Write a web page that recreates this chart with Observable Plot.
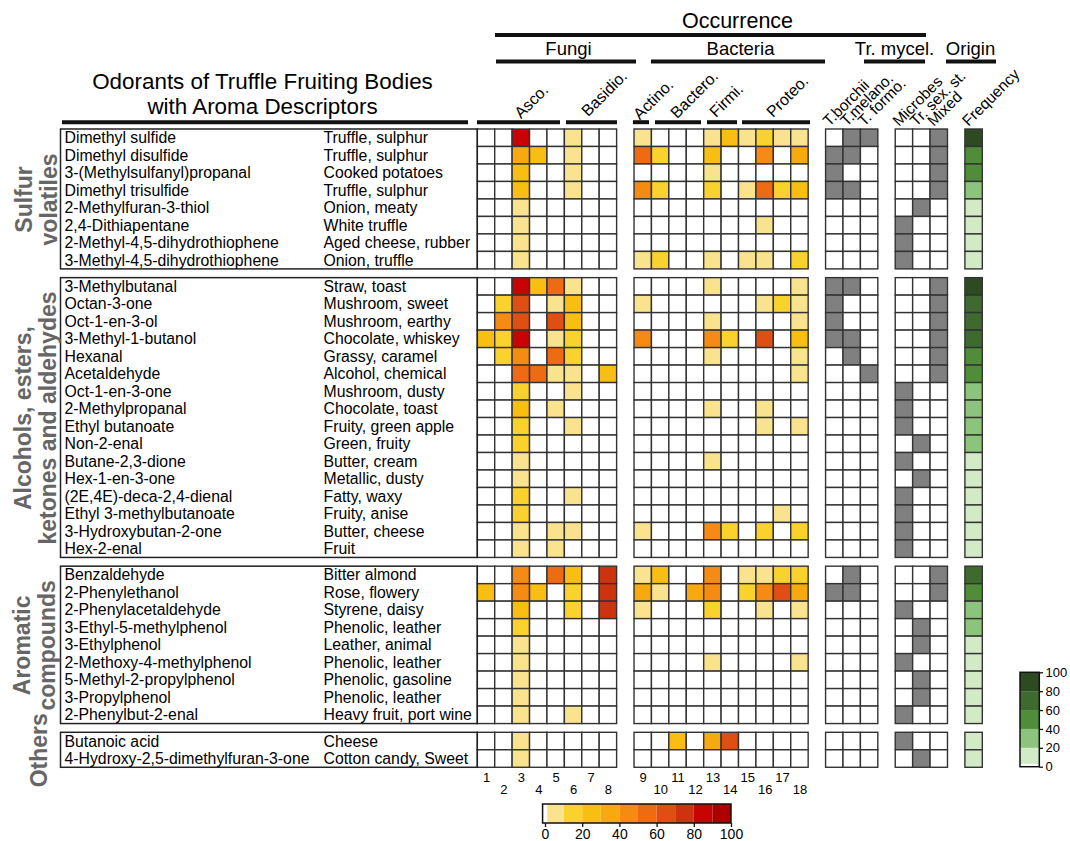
<!DOCTYPE html>
<html><head><meta charset="utf-8">
<script src="https://cdn.jsdelivr.net/npm/d3@7"></script>
<script src="https://cdn.jsdelivr.net/npm/@observablehq/plot@0.6"></script>
<style>body{margin:0;background:#fff}</style>
</head><body><div id="chart"></div>
<script>
// ---------------- DATA ----------------
const groups = ["Sulfur\nvolatiles", "Alcohols, esters,\nketones and aldehydes", "Aromatic\ncompounds", "Others"];
const groupSizes = [8, 16, 9, 2];
const compounds = [
  "Dimethyl sulfide","Dimethyl disulfide","3-(Methylsulfanyl)propanal","Dimethyl trisulfide","2-Methylfuran-3-thiol","2,4-Dithiapentane","2-Methyl-4,5-dihydrothiophene","3-Methyl-4,5-dihydrothiophene",
  "3-Methylbutanal","Octan-3-one","Oct-1-en-3-ol","3-Methyl-1-butanol","Hexanal","Acetaldehyde","Oct-1-en-3-one","2-Methylpropanal","Ethyl butanoate","Non-2-enal","Butane-2,3-dione","Hex-1-en-3-one","(2E,4E)-deca-2,4-dienal","Ethyl 3-methylbutanoate","3-Hydroxybutan-2-one","Hex-2-enal",
  "Benzaldehyde","2-Phenylethanol","2-Phenylacetaldehyde","3-Ethyl-5-methylphenol","3-Ethylphenol","2-Methoxy-4-methylphenol","5-Methyl-2-propylphenol","3-Propylphenol","2-Phenylbut-2-enal",
  "Butanoic acid","4-Hydroxy-2,5-dimethylfuran-3-one"
];
const descriptors = [
  "Truffle, sulphur","Truffle, sulphur","Cooked potatoes","Truffle, sulphur","Onion, meaty","White truffle","Aged cheese, rubber","Onion, truffle",
  "Straw, toast","Mushroom, sweet","Mushroom, earthy","Chocolate, whiskey","Grassy, caramel","Alcohol, chemical","Mushroom, dusty","Chocolate, toast","Fruity, green apple","Green, fruity","Butter, cream","Metallic, dusty","Fatty, waxy","Fruity, anise","Butter, cheese","Fruit",
  "Bitter almond","Rose, flowery","Styrene, daisy","Phenolic, leather","Leather, animal","Phenolic, leather","Phenolic, gasoline","Phenolic, leather","Heavy fruit, port wine",
  "Cheese","Cotton candy, Sweet"
];
const columnNumbers = ["1","2","3","4","5","6","7","8","9","10","11","12","13","14","15","16","17","18"];
// occurrence (%) in columns 1–18 (1–8 fungi, 9–18 bacteria)
const occurrence = [
  [0,0,85,0,0,5,0,0, 5,0,0,0,5,25,5,15,5,5],
  [0,0,35,25,0,5,0,0, 55,15,0,0,25,0,0,45,0,35],
  [0,0,25,0,0,5,0,0, 0,0,0,0,5,0,0,0,0,0],
  [0,0,25,0,0,5,0,0, 45,15,0,0,15,0,5,55,15,25],
  [0,0,5,0,0,0,0,0, 0,0,0,0,0,0,0,0,0,0],
  [0,0,5,0,0,0,0,0, 0,0,0,0,0,0,0,5,0,0],
  [0,0,5,0,0,0,0,0, 0,0,0,0,0,0,0,0,0,0],
  [0,0,5,0,0,0,0,0, 5,15,0,0,5,0,5,5,0,15],
  [0,0,85,25,55,5,0,0, 0,0,0,0,5,0,0,0,0,5],
  [0,15,65,0,5,25,0,0, 5,0,0,0,0,0,0,5,15,5],
  [0,45,65,0,65,25,0,0, 0,0,0,0,5,0,0,0,0,5],
  [25,15,85,0,5,15,0,0, 45,0,0,0,45,15,0,65,0,25],
  [0,15,45,0,55,15,0,0, 0,0,0,0,5,0,0,0,0,5],
  [0,0,55,55,5,5,0,25, 0,0,0,0,0,0,0,0,0,5],
  [0,0,15,0,0,5,0,0, 0,0,0,0,0,0,0,0,0,0],
  [0,0,25,0,5,0,0,0, 0,0,0,0,5,0,0,5,0,0],
  [0,0,15,0,0,5,0,0, 0,0,0,0,0,0,0,5,0,5],
  [0,0,15,0,0,0,0,0, 0,0,0,0,0,0,0,0,0,0],
  [0,0,5,0,0,0,0,0, 0,0,0,0,5,0,0,0,0,0],
  [0,0,5,0,0,0,0,0, 0,0,0,0,0,0,0,0,0,0],
  [0,0,15,0,0,5,0,0, 0,0,0,0,0,0,0,0,0,0],
  [0,0,15,0,0,0,0,0, 0,0,0,0,0,0,0,0,5,0],
  [0,0,5,0,5,5,0,0, 5,0,0,0,45,15,0,15,0,15],
  [0,0,5,0,5,0,0,0, 0,0,0,0,0,0,0,0,0,0],
  [0,0,45,0,55,25,0,75, 5,25,0,0,45,0,5,5,15,15],
  [25,0,45,25,0,15,0,75, 35,5,0,35,45,0,15,45,65,35],
  [0,0,25,0,0,15,0,75, 5,0,0,0,15,0,0,5,0,5],
  [0,0,15,0,0,0,0,0, 0,0,0,0,0,0,0,0,0,0],
  [0,0,5,0,0,0,0,0, 0,0,0,0,0,0,0,0,0,0],
  [0,0,5,0,0,0,0,0, 0,0,0,0,5,0,0,0,0,5],
  [0,0,5,0,0,0,0,0, 0,0,0,0,0,0,0,0,0,0],
  [0,0,5,0,0,0,0,0, 0,0,0,0,0,0,0,0,0,0],
  [0,0,5,0,0,5,0,0, 0,0,0,0,0,0,0,0,0,0],
  [0,0,5,0,0,0,0,0, 0,0,25,0,35,65,0,0,0,0],
  [0,0,5,0,0,0,0,0, 0,0,0,0,0,0,0,0,0,0]
];
const mycelLabels = ["T.borchii","T.melano.","T. formo."];
const mycelium = [
  [0,1,1],[1,1,0],[1,0,0],[1,1,0],[0,0,0],[0,0,0],[0,0,0],[0,0,0],
  [1,1,0],[1,0,0],[1,0,0],[1,1,0],[0,1,0],[0,0,1],[0,0,0],[0,0,0],[0,0,0],[0,0,0],[0,0,0],[0,0,0],[0,0,0],[0,0,0],[0,0,0],[0,0,0],
  [0,1,0],[1,1,0],[0,0,0],[0,0,0],[0,0,0],[0,0,0],[0,0,0],[0,0,0],[0,0,0],
  [0,0,0],[0,0,0]
];
const originLabels = ["Microbes","Tr. sex. st.","Mixed"];
const origin = [
  [0,0,1],[0,0,1],[0,0,1],[0,0,1],[0,1,0],[1,0,0],[1,0,0],[1,0,0],
  [0,0,1],[0,0,1],[0,0,1],[0,0,1],[0,0,1],[0,0,1],[1,0,0],[1,0,0],[1,0,0],[0,1,0],[1,0,0],[0,1,0],[1,0,0],[1,0,0],[1,0,0],[1,0,0],
  [0,0,1],[0,0,1],[1,0,0],[0,1,0],[0,1,0],[1,0,0],[0,1,0],[0,1,0],[1,0,0],
  [1,0,0],[0,1,0]
];
const frequency = [90,50,50,30,10,10,10,10, 90,70,70,70,50,50,30,30,30,30,10,10,10,10,10,10, 70,50,30,30,10,10,10,10,10, 10,10];

const subGroups = ["Asco.","Basidio.","Actino.","Bactero.","Firmi.","Proteo."];
const topGroups = ["Fungi","Bacteria","Tr. mycel.","Origin"];

const orangeThresholds = [0.5,10,20,30,40,50,60,70,80,90];
const orangeColors = ["#ffffff","#f9e38f","#f9d22e","#f8bf12","#f7aa10","#f68b13","#ed6b13","#df4e12","#cd3311","#c70303","#ab0000"];
const greenThresholds = [0.5,20,40,60,80];
const greenColors = ["#ffffff","#d2eac6","#8dc47b","#4f8d39","#3e6a30","#2e4a20"];
const orangeTicks = [0,20,40,60,80,100];
const greenTicks = [0,20,40,60,80,100];

// ---------------- LAYOUT ----------------
const X0 = 477.3, CW = 17.414, Y0 = 129, RH = 17.487;
const X = p => (p - X0) / CW;
const Y = p => (p - Y0) / RH;

const groupOf = groupSizes.flatMap((n, g) => Array(n).fill(g));
const rows = compounds.map((name, i) => ({name, desc: descriptors[i], g: groupOf[i], pos: i + groupOf[i] * 0.5}));
const groupBoxes = groups.map((label, g) => {
  const r = rows.filter(d => d.g === g);
  return {label, top: r[0].pos, bottom: r[r.length - 1].pos + 1};
});

const occCol = j => (j < 8 ? j : j + 1);
const cells = [];
rows.forEach((r, i) => {
  occurrence[i].forEach((v, j) => cells.push({col: occCol(j), pos: r.pos, key: "o" + d3.bisectRight(orangeThresholds, v)}));
  mycelium[i].forEach((v, k) => cells.push({col: 20 + k, pos: r.pos, key: "b" + v}));
  origin[i].forEach((v, k) => cells.push({col: 24 + k, pos: r.pos, key: "b" + v}));
  cells.push({col: 28, pos: r.pos, key: "g" + d3.bisectRight(greenThresholds, frequency[i])});
});

const colorDomain = [...orangeColors.map((c, i) => "o" + i), ...greenColors.map((c, i) => "g" + i), "b0", "b1"];
const colorRange = [...orangeColors, ...greenColors, "#ffffff", "#808080"];

// legends
const OL = v => X(545 + v * 1.86);
const orangeBins = orangeColors.map((c, i) => ({
  lo: i === 0 ? -1.3 : i === 1 ? 1.2 : orangeThresholds[i - 1],
  hi: i === 0 ? 1.2 : i === 10 ? 100 : orangeThresholds[i],
  key: "o" + i
}));
const GL = v => Y(766.7 - v * 0.944);
const greenBins = greenColors.map((c, i) => ({
  lo: i === 0 ? 0 : i === 1 ? 3 : greenThresholds[i - 1],
  hi: i === 0 ? 3 : i === 5 ? 100 : greenThresholds[i],
  key: "g" + i
}));

// header annotations (pixel layout)
const headerLines = [
  {y: 34.5, x1: 495, x2: 926},
  {y: 61, x1: 496, x2: 636}, {y: 61, x1: 651, x2: 825}, {y: 61, x1: 864, x2: 925}, {y: 61, x1: 946, x2: 996},
  {y: 121.7, x1: 62, x2: 468},
  {y: 121.7, x1: 477, x2: 560}, {y: 121.7, x1: 566, x2: 617}, {y: 121.7, x1: 633, x2: 649},
  {y: 121.7, x1: 655, x2: 701}, {y: 121.7, x1: 707, x2: 737}, {y: 121.7, x1: 742, x2: 810}
];
const topPos = [568, 740, 894, 970];
const subPos = [[531, 101], [604, 93], [653, 99], [694, 94], [726, 100], [787, 96]];
const rotCols = [
  ...mycelLabels.map((t, k) => ({t, col: 20 + k})),
  ...originLabels.map((t, k) => ({t, col: 24 + k})),
  {t: "Frequency", col: 28}
];
const groupLabelX = [36, 35, 34, 39];

const chart = Plot.plot({
  width: 1070,
  height: 841,
  margin: 0,
  x: {domain: [0, 29], range: [X0, X0 + 29 * CW], axis: null},
  y: {domain: [0, 36.5], range: [Y0, Y0 + 36.5 * RH], axis: null},
  color: {type: "ordinal", domain: colorDomain, range: colorRange},
  style: {fontFamily: "'Liberation Sans', Arial, sans-serif", background: "#fff", color: "#000"},
  marks: [
    // heatmap cells
    Plot.rect(cells, {x1: "col", x2: d => d.col + 1, y1: "pos", y2: d => d.pos + 1, fill: "key", stroke: "#333", strokeWidth: 1.4}),
    // name boxes
    Plot.rect(groupBoxes, {x1: X(60.5), x2: 0, y1: "top", y2: "bottom", fill: "none", stroke: "#222", strokeWidth: 1.5}),
    Plot.text(rows, {x: X(64), y: d => d.pos + 0.5, text: "name", textAnchor: "start", fontSize: 15.8}),
    Plot.text(rows, {x: X(323), y: d => d.pos + 0.5, text: "desc", textAnchor: "start", fontSize: 15.8}),
    // group labels
    Plot.text(groupBoxes, {x: (d, i) => X(groupLabelX[i]), y: d => (d.top + d.bottom) / 2, text: "label", rotate: -90, fontSize: 23, fontWeight: "bold", fill: "#666", lineHeight: 1.08}),
    // title
    Plot.text(["Odorants of Truffle Fruiting Bodies\nwith Aroma Descriptors"], {x: X(262), y: Y(93), text: d => d, fontSize: 22.4, lineHeight: 1.1}),
    // header lines
    Plot.ruleY(headerLines, {y: d => Y(d.y), x1: d => X(d.x1), x2: d => X(d.x2), strokeWidth: 4, stroke: "#111"}),
    Plot.text(["Occurrence"], {x: X(737), y: Y(21), text: d => d, fontSize: 21.5}),
    Plot.text(topGroups, {x: (d, i) => X(topPos[i]), y: Y(49), text: d => d, fontSize: 18.5}),
    Plot.text(subGroups, {x: (d, i) => X(subPos[i][0]), y: (d, i) => Y(subPos[i][1]), text: d => d, rotate: -45, fontSize: 16}),
    Plot.text(rotCols, {x: d => d.col + 0.5 - 9 / CW, y: Y(123), text: "t", rotate: -45, textAnchor: "start", fontSize: 15.5}),
    // column numbers
    Plot.text(columnNumbers, {x: (d, j) => occCol(j) + 0.5, y: (d, j) => Y(j % 2 === 0 ? 777.5 : 789), text: d => d, fontSize: 13}),
    // orange legend
    Plot.rect(orangeBins, {x1: d => OL(d.lo), x2: d => OL(d.hi), y1: Y(804), y2: Y(823), fill: "key"}),
    Plot.rect([0], {x1: OL(-1.3), x2: OL(100), y1: Y(804), y2: Y(823), fill: "none", stroke: "#111", strokeWidth: 1.5}),
    Plot.ruleX(orangeTicks, {x: d => OL(d), y1: Y(823), y2: Y(827), stroke: "#111", strokeWidth: 1.3}),
    Plot.text(orangeTicks, {x: d => OL(d), y: Y(834), text: d => String(d), fontSize: 14}),
    // green legend
    Plot.rect(greenBins, {x1: X(1020), x2: X(1039.3), y1: d => GL(d.lo), y2: d => GL(d.hi), fill: "key"}),
    Plot.rect([0], {x1: X(1020), x2: X(1039.3), y1: GL(0), y2: GL(100), fill: "none", stroke: "#111", strokeWidth: 1.5}),
    Plot.ruleY(greenTicks, {y: d => GL(d), x1: X(1039.3), x2: X(1043), stroke: "#111", strokeWidth: 1.3}),
    Plot.text(greenTicks, {x: X(1045), y: d => GL(d), text: d => String(d), textAnchor: "start", fontSize: 13})
  ]
});
document.getElementById("chart").appendChild(chart);
</script>
</body></html>
